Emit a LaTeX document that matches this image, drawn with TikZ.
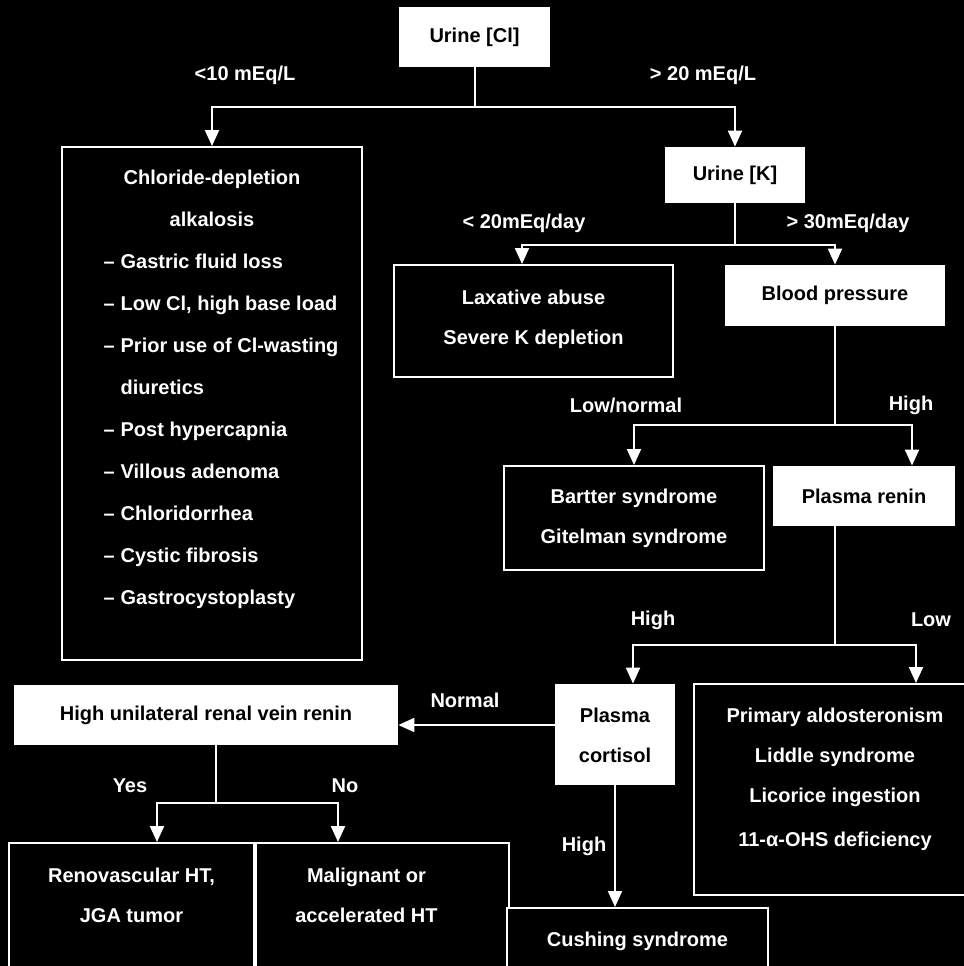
\documentclass[tikz,border=0pt]{standalone}
\usepackage{fontspec}
\setmainfont{Liberation Sans}
\usepackage{tikz}
\usetikzlibrary{arrows.meta}

\begin{document}
\begin{tikzpicture}[x=0.5pt, y=-0.5pt, font=\fontsize{10}{12}\selectfont\bfseries,
  decide/.style={rectangle, fill=white, text=black, inner sep=0pt, execute at begin node={\def\arraystretch{1.667}}},
  result/.style={rectangle, draw=white, line width=1pt, fill=black, text=white, inner sep=0pt, execute at begin node={\def\arraystretch{1.667}}},
  lbl/.style={text=white, inner sep=0pt},
  line/.style={draw=white, line width=1pt, -{Triangle[width=7pt, length=8pt]}}]

  \useasboundingbox (0,0) rectangle (964,966);
  \fill[black] (0,0) rectangle (964,966);

  % decision boxes
  \node [decide, minimum width=75.5pt, minimum height=30pt] (ucl) at (474.5,37) {Urine [Cl]};
  \node [decide, minimum width=70pt, minimum height=28pt] (uk) at (735,175) {Urine [K]};
  \node [decide, minimum width=110pt, minimum height=30.5pt] (bp) at (835,295.5) {Blood pressure};
  \node [decide, minimum width=91pt, minimum height=30pt] (renin) at (864,496) {Plasma renin};
  \node [decide, minimum width=60pt, minimum height=50.5pt] (cort) at (615,734.5) {\begin{tabular}{@{}c@{}}Plasma\\ cortisol\end{tabular}};
  \node [decide, minimum width=192pt, minimum height=30pt] (hr) at (206,715) {High unilateral renal vein renin};

  % outcome boxes
  \node [result, minimum width=150pt, minimum height=256.5pt] (cda) at (212,403.5) {\def\arraystretch{1.75}%
    \begin{tabular}{@{\hspace{9pt}}l@{\hspace{3pt}}l@{}}
      \multicolumn{2}{@{}c@{}}{Chloride-depletion}\\
      \multicolumn{2}{@{}c@{}}{alkalosis}\\
      – & Gastric fluid loss\\
      – & Low Cl, high base load\\
      – & Prior use of Cl-wasting\\
        & diuretics\\
      – & Post hypercapnia\\
      – & Villous adenoma\\
      – & Chloridorrhea\\
      – & Cystic fibrosis\\
      – & Gastrocystoplasty\\[17pt]
    \end{tabular}};
  \node [result, minimum width=139.5pt, minimum height=56pt] (lax) at (533.5,321) {\begin{tabular}{@{}c@{}}Laxative abuse\\ Severe K depletion\\[5pt]\end{tabular}};
  \node [result, minimum width=130pt, minimum height=52pt] (bart) at (634,518) {\begin{tabular}{@{}c@{}}Bartter syndrome\\ Gitelman syndrome\\[3pt]\end{tabular}};
  \node [result, minimum width=141pt, minimum height=105.5pt] (prim) at (835,789.5) {\begin{tabular}{@{}c@{}}Primary aldosteronism\\ Liddle syndrome\\ Licorice ingestion\\[2pt] 11-α-OHS deficiency\\[13.5pt]\end{tabular}};
  \node [result, minimum width=122.5pt, minimum height=68.5pt] (reno) at (131.5,911.5) {\begin{tabular}{@{}c@{}}Renovascular HT,\\ JGA tumor\\[17.5pt]\end{tabular}};
  \node [result, minimum width=126.5pt, minimum height=68.5pt] (mal) at (382.5,911.5) {\begin{tabular}{@{}c@{\hspace{16pt}}}Malignant or\\ accelerated HT\\[17.5pt]\end{tabular}};
  \node [result, minimum width=130.5pt, minimum height=36pt] (cush) at (637.5,944) {\begin{tabular}{@{}c@{}}Cushing syndrome\\[6pt]\end{tabular}};

  % branch labels
  \node [lbl] (l10) at (245,75) {<10 mEq/L};
  \node [lbl] (l20) at (703,75) {> 20 mEq/L};
  \node [lbl] (lkl) at (524,223) {< 20mEq/day};
  \node [lbl] (lkh) at (848,223) {> 30mEq/day};
  \node [lbl] (lbpl) at (626,405) {Low/normal};
  \node [lbl] (lbph) at (911,405) {High};
  \node [lbl] (lrh) at (653,620) {High};
  \node [lbl] (lrl) at (931,620) {Low};
  \node [lbl] (lnorm) at (465,700) {Normal};
  \node [lbl] (lyes) at (130,786) {Yes};
  \node [lbl] (lno) at (345,786) {No};
  \node [lbl] (lch) at (584,846) {High};

  \path [line] (ucl.south) -- ++(0,40) -| (cda.north);
  \path [line] (ucl.south) -- ++(0,40) -| (uk.north);
  \path [line] (uk.south) -- ++(0,42) -| ([xshift=-5.75pt]lax.north);
  \path [line] (uk.south) -- ++(0,42) -| (bp.north);
  \path [line] (bp.south) -- ++(0,99) -| (bart.north);
  \path [line] (bp.south) -- ++(0,99) -| ([xshift=24pt]renin.north);
  \path [line] ([xshift=-14.5pt]renin.south) -- ++(0,119) -| ([xshift=9pt]cort.north);
  \path [line] ([xshift=-14.5pt]renin.south) -- ++(0,119) -| ([xshift=40.5pt]prim.north);
  \path [line] ([yshift=4.75pt]cort.west) -- ([yshift=4.75pt]cort.west -| hr.east);
  \path [line] ([xshift=5pt]hr.south) -- ++(0,58) -| ([xshift=12.75pt]reno.north);
  \path [line] ([xshift=5pt]hr.south) -- ++(0,58) -| ([xshift=-22.25pt]mal.north);
  \path [line] (cort.south) -- (cort.south |- cush.north);
\end{tikzpicture}
\end{document}
